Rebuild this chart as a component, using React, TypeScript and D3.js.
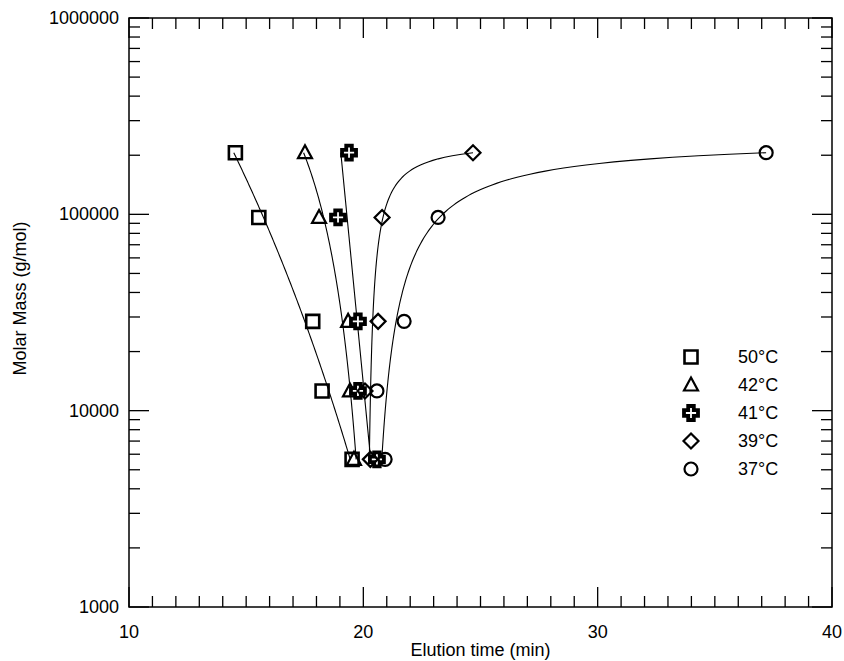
import React from "react";
import * as d3 from "d3";

// values
const molarMass = [206000, 96400, 28500, 12600, 5650];
const seriesNames = ["50°C", "42°C", "41°C", "39°C", "37°C"];
const elution50 = [14.54, 15.54, 17.84, 18.24, 19.52];
const elution42 = [17.51, 18.11, 19.35, 19.43, 19.6];
const elution41 = [19.39, 18.92, 19.77, 19.77, 20.58];
const elution39 = [24.68, 20.8, 20.63, 20.07, 20.3];
const elution37 = [37.19, 23.19, 21.74, 20.58, 20.93];
const xMajorTicks = [10, 20, 30, 40];
const yMajorTicks = [1000, 10000, 100000, 1000000];

const allSeries = [elution50, elution42, elution41, elution39, elution37];
const shapes = ["square", "triangle", "cross", "diamond", "circle"];

const W = 844;
const H = 661;
const x = d3.scaleLinear().domain([10, 40]).range([129, 832]);
const y = d3.scaleLog().domain([1000, 1000000]).range([607, 18]);

// least squares fit t = a + b / (L0 - log M), L0 searched on a grid
function fitCurve(times: number[], masses: number[]) {
  const L = masses.map((m) => Math.log10(m));
  const maxL = d3.max(L) as number;
  const solve = (g: number[]) => {
    const mg = d3.mean(g) as number;
    const mt = d3.mean(times) as number;
    let sxy = 0;
    let sxx = 0;
    g.forEach((v, i) => {
      sxy += (v - mg) * (times[i] - mt);
      sxx += (v - mg) * (v - mg);
    });
    const b = sxy / sxx;
    const a = mt - b * mg;
    const sse = d3.sum(g, (v, i) => (a + b * v - times[i]) ** 2);
    return { a, b, sse };
  };
  let best = { ...solve(L), L0: Infinity };
  for (let k = 0; k < 400; k++) {
    const off = 0.005 * Math.pow(10, k / 100);
    const L0 = maxL + off;
    const r = solve(L.map((v) => 1 / (L0 - v)));
    if (r.sse < best.sse) best = { ...r, L0 };
  }
  return (l: number) =>
    best.L0 === Infinity ? best.a + best.b * l : best.a + best.b / (best.L0 - l);
}

function markerPath(shape: string) {
  const p = d3.path();
  if (shape === "square") {
    p.rect(-6.5, -6.5, 13, 13);
  } else if (shape === "triangle") {
    p.moveTo(0, -7.5);
    p.lineTo(7, 5.5);
    p.lineTo(-7, 5.5);
    p.closePath();
  } else if (shape === "diamond") {
    p.moveTo(0, -7.5);
    p.lineTo(7.5, 0);
    p.lineTo(0, 7.5);
    p.lineTo(-7.5, 0);
    p.closePath();
  } else if (shape === "cross") {
    const a = 2.8;
    const b = 7;
    p.moveTo(-a, -b);
    p.lineTo(a, -b);
    p.lineTo(a, -a);
    p.lineTo(b, -a);
    p.lineTo(b, a);
    p.lineTo(a, a);
    p.lineTo(a, b);
    p.lineTo(-a, b);
    p.lineTo(-a, a);
    p.lineTo(-b, a);
    p.lineTo(-b, -a);
    p.lineTo(-a, -a);
    p.closePath();
  } else {
    p.arc(0, 0, 6.5, 0, Math.PI * 2);
  }
  return p.toString();
}

function Marker({ shape, cx, cy }: { shape: string; cx: number; cy: number }) {
  const sw = shape === "cross" ? 3.8 : shape === "square" ? 2.6 : 2.2;
  return (
    <path
      d={markerPath(shape)}
      transform={`translate(${cx},${cy})`}
      fill={shape === "cross" ? "#fff" : "none"}
      stroke="#000"
      strokeWidth={sw}
      strokeLinejoin="miter"
    />
  );
}

const font = "'Liberation Sans', Arial, sans-serif";

export default function App() {
  const [x0, x1] = x.range();
  const [yb, yt] = y.range();

  const xMinor = d3.range(10, 41, 1);
  const yMinor: number[] = [];
  yMajorTicks.slice(0, -1).forEach((d) => {
    for (let k = 2; k <= 9; k++) yMinor.push(d * k);
  });

  const logs = molarMass.map((m) => Math.log10(m));
  const lo = d3.min(logs) as number;
  const hi = d3.max(logs) as number;
  const samples = d3.range(0, 201).map((i) => lo + ((hi - lo) * i) / 200);

  const line = d3
    .line<[number, number]>()
    .x((d) => x(d[0]))
    .y((d) => y(Math.pow(10, d[1])));

  return (
    <svg
      width={W}
      height={H}
      style={{ position: "absolute", left: 0, top: 0, background: "#fff" }}
      fontFamily={font}
    >
      <rect x={0} y={0} width={W} height={H} fill="#fff" />

      {/* fitted curves */}
      {allSeries.map((ts, i) => {
        const f = fitCurve(ts, molarMass);
        const pts = samples.map((l) => [f(l), l] as [number, number]);
        return (
          <path key={"c" + i} d={line(pts) || ""} fill="none" stroke="#000" strokeWidth={1.1} />
        );
      })}

      {/* markers */}
      {allSeries.map((ts, i) =>
        ts.map((t, j) => (
          <Marker key={`m${i}-${j}`} shape={shapes[i]} cx={x(t)} cy={y(molarMass[j])} />
        ))
      )}

      {/* frame */}
      <rect x={x0} y={yt} width={x1 - x0} height={yb - yt} fill="none" stroke="#000" strokeWidth={1.5} />

      {/* x ticks bottom and top */}
      {xMinor.map((t) => {
        const len = xMajorTicks.includes(t) ? 20 : 11;
        return (
          <g key={"xt" + t} stroke="#000" strokeWidth={1.3}>
            <line x1={x(t)} x2={x(t)} y1={yb} y2={yb - len} />
            <line x1={x(t)} x2={x(t)} y1={yt} y2={yt + len} />
          </g>
        );
      })}
      {/* y ticks left and right */}
      {yMajorTicks.concat(yMinor).map((v) => {
        const len = yMajorTicks.includes(v) ? 20 : 11;
        return (
          <g key={"yt" + v} stroke="#000" strokeWidth={1.3}>
            <line x1={x0} x2={x0 + len} y1={y(v)} y2={y(v)} />
            <line x1={x1} x2={x1 - len} y1={y(v)} y2={y(v)} />
          </g>
        );
      })}

      {/* tick labels */}
      {xMajorTicks.map((t) => (
        <text key={"xl" + t} x={x(t)} y={yb + 31} textAnchor="middle" fontSize={18}>
          {t}
        </text>
      ))}
      {yMajorTicks.map((v) => (
        <text key={"yl" + v} x={x0 - 10} y={y(v) + 6} textAnchor="end" fontSize={18}>
          {v}
        </text>
      ))}

      <text x={(x0 + x1) / 2} y={656} textAnchor="middle" fontSize={18}>
        Elution time (min)
      </text>
      <text
        transform={`translate(26,${(yb + yt) / 2 - 14}) rotate(-90)`}
        textAnchor="middle"
        fontSize={18}
      >
        Molar Mass (g/mol)
      </text>

      {/* legend */}
      {seriesNames.map((name, i) => (
        <g key={"lg" + i}>
          <Marker shape={shapes[i]} cx={691} cy={357 + i * 28} />
          <text x={738} y={357 + i * 28 + 6} fontSize={18}>
            {name}
          </text>
        </g>
      ))}
    </svg>
  );
}
